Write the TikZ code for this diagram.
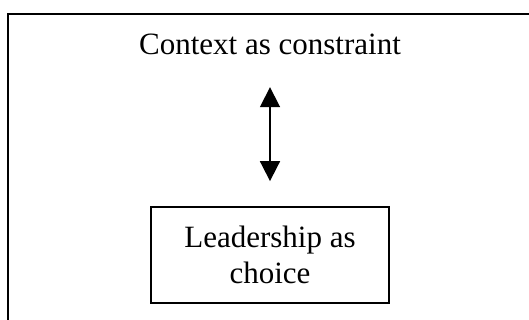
\documentclass[tikz,border=0pt]{standalone}
\usepackage{fontspec}
\setmainfont{Liberation Serif}
\usetikzlibrary{arrows.meta}

\tikzset{
	label text/.style={inner sep=0pt, font=\fontsize{31}{36}\selectfont},
	choice box/.style={draw, line width=1.8pt, minimum width=238pt, minimum height=96pt, align=center, font=\fontsize{31}{36}\selectfont},
	two way/.style={line width=1.8pt, {Triangle[width=20pt,length=20pt]}-{Triangle[width=20pt,length=20pt]}}
}

\begin{document}
\begin{tikzpicture}[x=1pt, y=-1pt]
		\clip (0,0) rectangle (529,320);
		
		% open frame, only left and top edges show
		\draw[line width=1.8pt] (8,340) |- (550,14);
		
		\node[label text, anchor=base, text depth=0pt] (context) at (270,55) {Context as constraint};
		\node[choice box] (leader) at (270,255) {Leadership as\\choice};
		
		\draw[two way, shorten <=32pt, shorten >=25pt] (context.south) -- (leader.north);
	\end{tikzpicture}
\end{document}
